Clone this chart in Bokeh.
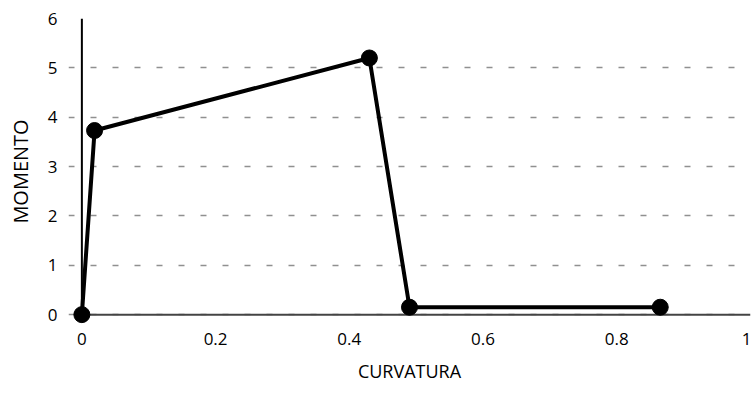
from bokeh.plotting import figure
from bokeh.embed import file_html
from bokeh.resources import INLINE
from bokeh.models import Range1d, FixedTicker

curvatura = [0.0, 0.019, 0.43, 0.49, 0.865]
momento = [0.0, 3.73, 5.2, 0.15, 0.15]
x_ticks = [0, 0.2, 0.4, 0.6, 0.8, 1]
y_ticks = [0, 1, 2, 3, 4, 5, 6]

p = figure(width=751, height=399, output_backend="svg", toolbar_location=None,
           x_range=Range1d(-0.02, 1.0), y_range=Range1d(-0.2, 6),
           min_border_left=68, min_border_right=1, min_border_top=18, min_border_bottom=75)
p.outline_line_color = None
p.background_fill_color = "white"

# axis lines at zero
p.segment(x0=[0], y0=[0], x1=[0], y1=[6], line_color="black", line_width=2)
p.segment(x0=[0], y0=[0], x1=[1], y1=[0], line_color="#444444", line_width=2)

p.line(curvatura, momento, line_color="black", line_width=4)
p.scatter(curvatura, momento, size=16, fill_color="black", line_color="black")

font = "Open Sans"
p.xaxis.ticker = FixedTicker(ticks=x_ticks)
p.yaxis.ticker = FixedTicker(ticks=y_ticks)
p.xaxis.major_label_overrides = {0: "0", 0.2: "0.2", 0.4: "0.4", 0.6: "0.6", 0.8: "0.8", 1: "1"}
for ax in (p.xaxis[0], p.yaxis[0]):
    ax.major_tick_in = 0
    ax.major_tick_out = 0
    ax.minor_tick_in = 0
    ax.minor_tick_out = 0
    ax.axis_line_color = None
    ax.major_label_text_font = font
    ax.major_label_text_font_size = "17px"
    ax.major_label_text_color = "black"
    ax.axis_label_text_font = font
    ax.axis_label_text_font_size = "18px"
    ax.axis_label_text_font_style = "normal"
    ax.axis_label_text_color = "black"

p.xaxis.axis_label = "CURVATURA"
p.yaxis.axis_label = "MOMENTO"
p.yaxis.axis_label_text_font_size = "20px"
p.xaxis.major_label_standoff = 8
p.xaxis.axis_label_standoff = 11
p.yaxis.major_label_standoff = 11
p.yaxis.axis_label_standoff = 11

p.xgrid.grid_line_color = None
p.ygrid.grid_line_color = "#222222"
p.ygrid.grid_line_alpha = 0.5
p.ygrid.grid_line_width = 1.5
p.ygrid.grid_line_dash = "6 16"

open("out.html", "w").write(file_html(p, INLINE))
